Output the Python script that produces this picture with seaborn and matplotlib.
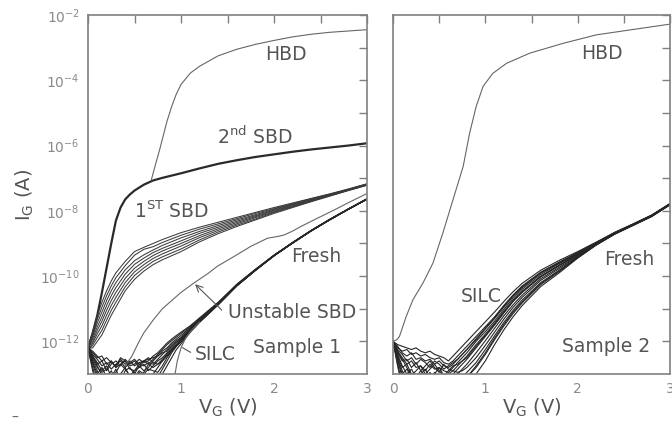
import numpy as np
import pandas as pd
import matplotlib
matplotlib.use('Agg')
import matplotlib.pyplot as plt
import seaborn as sns

# ---------------- data (log10 of gate current in A) ----------------
V_SBD2 = [0, 0.05, 0.1, 0.15, 0.2, 0.25, 0.3, 0.35, 0.4, 0.45, 0.5, 0.6, 0.7, 0.8,
          1.0, 1.2, 1.4, 1.6, 1.8, 2.0, 2.2, 2.4, 2.6, 2.8, 3.0]
LOG_SBD2 = [-12.2, -11.75, -11.2, -10.5, -9.75, -9.0, -8.3, -7.9, -7.65, -7.5, -7.38, -7.2,
            -7.07, -6.99, -6.85, -6.7, -6.56, -6.45, -6.35, -6.27, -6.19, -6.12, -6.06, -6.0, -5.93]

V_HBD1 = [0.68, 0.72, 0.77, 0.8, 0.85, 0.9, 0.95, 1.0, 1.1, 1.2, 1.4, 1.6, 1.8, 2.0,
          2.2, 2.4, 2.6, 2.8, 3.0]
LOG_HBD1 = [-7.06, -6.64, -6.13, -5.8, -5.25, -4.8, -4.42, -4.13, -3.78, -3.57, -3.25,
            -3.05, -2.9, -2.78, -2.67, -2.59, -2.53, -2.49, -2.45]

V_SBD1 = [0, 0.05, 0.1, 0.15, 0.2, 0.25, 0.3, 0.4, 0.5, 0.6, 0.7, 0.8, 1.0, 1.2, 1.4,
          1.6, 1.8, 2.0, 2.2, 2.4, 2.6, 2.8, 3.0]
LOG_SBD1 = [
    [-12.2, -11.7, -11.2, -10.8, -10.45, -10.15, -9.9, -9.55, -9.25, -9.12, -9.0, -8.88, -8.67, -8.5, -8.35, -8.2, -8.05, -7.9, -7.76, -7.62, -7.48, -7.33, -7.17],
    [-12.25, -11.78, -11.32, -10.95, -10.6, -10.3, -10.05, -9.68, -9.36, -9.18, -9.1, -8.97, -8.75, -8.56, -8.4, -8.24, -8.08, -7.93, -7.78, -7.63, -7.49, -7.34, -7.18],
    [-12.3, -11.85, -11.43, -11.1, -10.75, -10.45, -10.2, -9.81, -9.53, -9.35, -9.2, -9.06, -8.83, -8.63, -8.45, -8.28, -8.12, -7.95, -7.8, -7.65, -7.5, -7.35, -7.18],
    [-12.15, -11.92, -11.55, -11.25, -10.9, -10.6, -10.35, -9.94, -9.64, -9.45, -9.28, -9.15, -8.92, -8.69, -8.5, -8.32, -8.15, -7.98, -7.82, -7.66, -7.51, -7.35, -7.19],
    [-12.2, -12.0, -11.66, -11.38, -11.05, -10.75, -10.5, -10.07, -9.76, -9.55, -9.37, -9.23, -9.0, -8.76, -8.55, -8.36, -8.18, -8.0, -7.84, -7.68, -7.52, -7.36, -7.2],
    [-12.3, -12.05, -11.77, -11.52, -11.2, -10.9, -10.65, -10.2, -9.87, -9.65, -9.46, -9.32, -9.08, -8.82, -8.6, -8.4, -8.21, -8.03, -7.86, -7.69, -7.53, -7.37, -7.2],
    [-12.25, -12.12, -11.88, -11.66, -11.35, -11.05, -10.8, -10.33, -9.98, -9.75, -9.55, -9.41, -9.17, -8.89, -8.65, -8.44, -8.25, -8.05, -7.88, -7.71, -7.54, -7.37, -7.21],
    [-12.2, -12.2, -12.0, -11.8, -11.5, -11.2, -10.95, -10.45, -10.1, -9.85, -9.65, -9.5, -9.25, -8.95, -8.7, -8.48, -8.28, -8.08, -7.9, -7.72, -7.55, -7.38, -7.22],
]

V_FRESH1 = [0, 0.05, 0.1, 0.15, 0.2, 0.25, 0.3, 0.35, 0.4, 0.45, 0.5, 0.55, 0.6, 0.65,
            0.7, 0.75, 0.8, 0.85, 0.9, 0.95, 1.0, 1.1, 1.2, 1.4, 1.6, 1.8, 2.0, 2.2,
            2.4, 2.6, 2.8, 3.0]
LOG_FRESH1 = [
    [-12.15, -12.35, -12.5, -12.45, -12.7, -12.6, -12.8, -12.55, -12.7, -12.6, -12.75, -12.65, -12.6, -12.7, -12.55, -12.4, -12.25, -12.1, -11.98, -11.87, -11.76, -11.55, -11.3, -10.82, -10.26, -9.8, -9.36, -8.97, -8.6, -8.26, -7.94, -7.63],
    [-12.2, -12.45, -12.65, -12.9, -12.75, -13.1, -12.85, -13.2, -12.9, -12.8, -13.0, -12.75, -12.9, -12.8, -12.6, -12.45, -12.3, -12.2, -12.05, -11.93, -11.82, -11.58, -11.33, -10.84, -10.27, -9.81, -9.37, -8.98, -8.61, -8.27, -7.95, -7.64],
    [-12.25, -12.6, -12.9, -13.2, -13.4, -13.1, -12.95, -12.7, -12.85, -13.05, -12.9, -12.7, -12.75, -12.65, -12.7, -12.55, -12.4, -12.25, -12.1, -11.98, -11.88, -11.6, -11.35, -10.85, -10.28, -9.81, -9.37, -8.98, -8.61, -8.27, -7.95, -7.64],
    [-12.2, -12.5, -12.7, -12.6, -12.9, -12.7, -12.6, -12.75, -12.55, -12.7, -12.6, -12.8, -12.7, -12.9, -12.75, -12.6, -12.5, -12.35, -12.2, -12.05, -11.93, -11.63, -11.37, -10.86, -10.29, -9.82, -9.37, -8.98, -8.61, -8.27, -7.95, -7.64],
    [-12.15, -12.7, -13.1, -13.3, -13.0, -13.3, -13.2, -13.4, -13.1, -13.3, -13.2, -12.95, -13.1, -13.3, -13.0, -12.8, -12.6, -12.4, -12.25, -12.1, -11.97, -11.66, -11.38, -10.86, -10.29, -9.82, -9.37, -8.98, -8.61, -8.27, -7.95, -7.64],
    [-12.2, -12.4, -12.55, -12.75, -12.65, -12.85, -12.7, -12.6, -12.8, -12.65, -12.55, -12.7, -12.6, -12.5, -12.65, -12.7, -12.55, -12.4, -12.25, -12.12, -12.0, -11.68, -11.39, -10.87, -10.3, -9.82, -9.38, -8.99, -8.61, -8.27, -7.95, -7.64],
    [-12.25, -12.8, -13.3, -13.0, -13.4, -13.2, -13.4, -13.3, -13.4, -13.2, -13.4, -13.3, -13.4, -13.2, -13.3, -13.1, -12.85, -12.6, -12.35, -12.15, -12.02, -11.7, -11.4, -10.87, -10.3, -9.82, -9.38, -8.99, -8.61, -8.27, -7.95, -7.64],
    [-12.2, -12.55, -12.8, -12.95, -12.85, -12.6, -12.8, -12.7, -12.6, -12.85, -12.9, -12.8, -12.6, -12.55, -12.5, -12.45, -12.35, -12.3, -12.15, -12.02, -11.9, -11.62, -11.36, -10.85, -10.28, -9.81, -9.37, -8.98, -8.61, -8.27, -7.95, -7.64],
    [-12.2, -12.9, -13.4, -13.2, -13.3, -13.4, -13.1, -13.3, -13.4, -13.2, -13.35, -13.4, -13.2, -13.4, -13.3, -13.2, -13.0, -12.75, -12.5, -12.25, -12.08, -11.72, -11.42, -10.88, -10.3, -9.83, -9.38, -8.99, -8.62, -8.28, -7.95, -7.65],
    [-12.2, -12.3, -12.45, -12.6, -12.5, -12.65, -12.75, -12.5, -12.6, -12.75, -12.7, -12.55, -12.65, -12.6, -12.45, -12.35, -12.2, -12.05, -11.93, -11.82, -11.72, -11.52, -11.28, -10.8, -10.25, -9.79, -9.36, -8.97, -8.6, -8.26, -7.94, -7.63],
    [-12.25, -12.65, -13.0, -12.8, -13.1, -12.9, -13.2, -13.0, -12.8, -13.1, -12.95, -13.15, -12.95, -12.7, -12.8, -12.7, -12.6, -12.45, -12.3, -12.15, -12.0, -11.67, -11.39, -10.87, -10.29, -9.82, -9.37, -8.98, -8.61, -8.27, -7.95, -7.64],
    [-12.15, -12.45, -12.75, -13.05, -13.3, -13.4, -13.2, -13.0, -13.25, -13.4, -13.1, -12.9, -13.0, -12.85, -12.9, -12.95, -12.75, -12.5, -12.3, -12.12, -11.98, -11.66, -11.38, -10.86, -10.29, -9.82, -9.37, -8.98, -8.61, -8.27, -7.95, -7.64],
]

V_SILC1 = [0.93, 0.96, 1.0, 1.05, 1.1, 1.2]
LOG_SILC1 = [-13.1, -12.6, -12.2, -11.9, -11.7, -11.4]

V_UNST = [0.4, 0.47, 0.55, 0.6, 0.7, 0.8, 0.9, 1.0, 1.14, 1.3, 1.39, 1.57, 1.75, 1.93,
          2.05, 2.11, 2.2, 2.29, 2.45, 2.65, 2.8, 3.0]
LOG_UNST = [-12.75, -12.46, -12.0, -11.74, -11.35, -11.0, -10.75, -10.5, -10.21, -9.9,
            -9.70, -9.40, -9.09, -8.84, -8.78, -8.74, -8.62, -8.48, -8.25, -7.97, -7.75, -7.47]

V_HBD2 = [0, 0.04, 0.07, 0.1, 0.144, 0.217, 0.325, 0.433, 0.54, 0.65, 0.76, 0.83, 0.9,
          0.975, 1.08, 1.23, 1.48, 1.84, 2.2, 2.56, 3.0]
LOG_HBD2 = [-12.0, -11.95, -11.85, -11.6, -11.23, -10.72, -10.21, -9.6, -8.68, -7.66,
            -6.64, -5.62, -4.81, -4.19, -3.79, -3.48, -3.17, -2.87, -2.61, -2.46, -2.28]

V_FRESH2 = [0, 0.05, 0.1, 0.15, 0.2, 0.25, 0.3, 0.35, 0.4, 0.45, 0.5, 0.55, 0.6, 0.65,
            0.7, 0.75, 0.8, 0.9, 1.0, 1.1, 1.2, 1.3, 1.4, 1.6, 1.8, 2.0, 2.2, 2.4, 2.6, 2.8, 3.0]
LOG_FRESH2 = [
    [-12.0, -12.1, -12.15, -12.2, -12.25, -12.2, -12.3, -12.35, -12.3, -12.4, -12.45, -12.5, -12.6, -12.45, -12.3, -12.15, -12.0, -11.7, -11.4, -11.1, -10.78, -10.48, -10.22, -9.82, -9.52, -9.25, -8.96, -8.66, -8.4, -8.13, -7.78],
    [-12.0, -12.2, -12.3, -12.25, -12.4, -12.35, -12.45, -12.4, -12.5, -12.55, -12.5, -12.65, -12.7, -12.6, -12.45, -12.3, -12.15, -11.85, -11.55, -11.25, -10.9, -10.58, -10.3, -9.88, -9.57, -9.28, -8.98, -8.67, -8.41, -8.14, -7.78],
    [-12.05, -12.3, -12.5, -12.7, -12.6, -12.8, -12.75, -12.9, -12.7, -12.85, -12.8, -12.9, -12.95, -12.8, -12.65, -12.5, -12.35, -12.0, -11.7, -11.38, -11.02, -10.68, -10.4, -9.95, -9.62, -9.32, -9.0, -8.68, -8.42, -8.15, -7.79],
    [-12.0, -12.4, -12.75, -13.0, -12.85, -13.1, -12.9, -13.05, -13.2, -12.95, -13.1, -13.0, -13.15, -13.0, -12.85, -12.7, -12.55, -12.2, -11.85, -11.5, -11.13, -10.78, -10.5, -10.02, -9.68, -9.35, -9.01, -8.69, -8.43, -8.15, -7.79],
    [-12.05, -12.5, -12.9, -13.2, -13.4, -13.2, -13.35, -13.1, -13.3, -13.4, -13.2, -13.35, -13.2, -13.1, -13.0, -12.85, -12.7, -12.35, -11.98, -11.6, -11.22, -10.88, -10.58, -10.08, -9.73, -9.38, -9.02, -8.7, -8.43, -8.16, -7.8],
    [-12.0, -12.35, -12.6, -12.55, -12.8, -12.65, -12.9, -12.75, -12.6, -12.8, -12.95, -12.7, -12.85, -12.9, -12.95, -12.9, -12.8, -12.5, -12.12, -11.72, -11.32, -10.96, -10.65, -10.13, -9.77, -9.4, -9.03, -8.7, -8.43, -8.16, -7.8],
    [-12.0, -12.6, -13.1, -13.4, -13.2, -13.4, -13.3, -13.4, -13.15, -13.3, -13.4, -13.2, -13.4, -13.3, -13.2, -13.1, -12.95, -12.65, -12.25, -11.83, -11.42, -11.05, -10.73, -10.2, -9.82, -9.42, -9.04, -8.71, -8.44, -8.17, -7.81],
    [-12.05, -12.45, -12.8, -12.7, -13.0, -13.2, -13.0, -12.85, -13.1, -13.0, -12.8, -13.05, -13.1, -13.2, -13.3, -13.2, -13.1, -12.8, -12.4, -11.95, -11.53, -11.15, -10.82, -10.26, -9.86, -9.44, -9.05, -8.71, -8.44, -8.17, -7.81],
    [-12.0, -12.7, -13.3, -13.1, -13.4, -13.3, -13.4, -13.4, -13.3, -13.4, -13.3, -13.4, -13.4, -13.4, -13.4, -13.35, -13.25, -13.0, -12.6, -12.1, -11.65, -11.25, -10.9, -10.32, -9.9, -9.45, -9.05, -8.72, -8.45, -8.18, -7.82],
    [-12.0, -12.25, -12.4, -12.6, -12.5, -12.7, -12.55, -12.65, -12.8, -12.6, -12.7, -12.85, -12.75, -12.65, -12.55, -12.4, -12.25, -11.95, -11.62, -11.3, -10.95, -10.62, -10.35, -9.9, -9.6, -9.3, -8.99, -8.68, -8.42, -8.15, -7.79],
    [-12.0, -12.15, -12.35, -12.45, -12.35, -12.55, -12.5, -12.6, -12.55, -12.7, -12.6, -12.75, -12.8, -12.7, -12.55, -12.4, -12.25, -11.92, -11.6, -11.28, -10.93, -10.6, -10.33, -9.9, -9.58, -9.29, -8.98, -8.67, -8.41, -8.14, -7.78],
    [-12.05, -12.55, -13.0, -12.85, -13.1, -13.3, -13.1, -13.25, -12.95, -13.15, -13.3, -13.1, -13.0, -12.9, -12.75, -12.6, -12.45, -12.1, -11.78, -11.44, -11.08, -10.74, -10.46, -10.0, -9.66, -9.34, -9.01, -8.69, -8.43, -8.15, -7.79],
    [-12.0, -12.75, -13.4, -13.3, -13.4, -13.1, -13.4, -13.3, -13.4, -13.3, -13.4, -13.3, -13.4, -13.4, -13.3, -13.2, -13.1, -12.75, -12.35, -11.9, -11.48, -11.1, -10.78, -10.23, -9.84, -9.43, -9.04, -8.71, -8.44, -8.17, -7.81],
    [-12.0, -12.3, -12.55, -12.8, -13.05, -12.9, -12.75, -13.0, -12.85, -12.7, -12.9, -13.05, -12.9, -12.75, -12.7, -12.6, -12.5, -12.15, -11.82, -11.48, -11.12, -10.77, -10.48, -10.02, -9.68, -9.35, -9.01, -8.69, -8.43, -8.15, -7.79],
]

X_TICKS = [0, 1, 2, 3]
Y_EXPONENTS = list(range(-12, -1))
Y_TICK_LABELS = [f"$10^{{{e}}}$" if e % 2 == 0 else "" for e in Y_EXPONENTS]

# ---------------- assemble long table ----------------
rows = []
def add(panel, group, cid, V, L):
    for v, l in zip(V, L):
        rows.append(dict(panel=panel, group=group, curve=cid, V=v, I=10.0 ** l))

add(1, 'sbd2', 's2', V_SBD2, LOG_SBD2)
add(1, 'hbd', 'h1', V_HBD1, LOG_HBD1)
for k, L in enumerate(LOG_SBD1):
    add(1, 'sbd1', f'b{k}', V_SBD1, L)
for k, L in enumerate(LOG_FRESH1):
    add(1, 'fresh', f'f{k}', V_FRESH1, L)
add(1, 'thin', 'silc1', V_SILC1, LOG_SILC1)
add(1, 'thin', 'unst', V_UNST, LOG_UNST)
add(2, 'hbd', 'h2', V_HBD2, LOG_HBD2)
for k, L in enumerate(LOG_FRESH2):
    add(2, 'fresh', f'r{k}', V_FRESH2, L)
df = pd.DataFrame(rows)

styles = {'sbd2': dict(color='#2a2a2a', lw=1.6),
          'hbd': dict(color='#666666', lw=0.8),
          'sbd1': dict(color='#3a3a3a', lw=0.75),
          'fresh': dict(color='#262626', lw=0.8),
          'thin': dict(color='#666666', lw=0.8)}

# ---------------- figure ----------------
sns.set_theme(style='white')
plt.rcParams['font.family'] = ['DejaVu Sans']
plt.rcParams['mathtext.default'] = 'regular'

W, H = 672, 425
fig = plt.figure(figsize=(W / 100, H / 100), dpi=100)
bot = 1 - 374 / H
top = 1 - 15 / H
ax1 = fig.add_axes([88 / W, bot, (367 - 88) / W, top - bot])
ax2 = fig.add_axes([393 / W, bot, (670 - 393) / W, top - bot])

TXT = '#555555'
TICKC = '#8a8a8a'
SPINE = '#808080'

for ax, p in ((ax1, 1), (ax2, 2)):
    sub = df[df.panel == p]
    for g, st in styles.items():
        d = sub[sub.group == g]
        if len(d) == 0:
            continue
        sns.lineplot(data=d, x='V', y='I', units='curve', estimator=None, sort=False,
                     color=st['color'], linewidth=st['lw'], legend=False, ax=ax)
    ax.set_yscale('log')
    ax.set_xlim(0, 3)
    ax.set_ylim(1e-13, 1e-2)
    ax.set_xticks(X_TICKS)
    ax.set_xticks([0.5, 1.5, 2.5], minor=True)
    ax.set_xticklabels([str(t) for t in X_TICKS])
    ax.set_yticks([10.0 ** e for e in Y_EXPONENTS])
    ax.yaxis.set_minor_locator(matplotlib.ticker.NullLocator())
    ax.tick_params(which='both', direction='in', top=True, right=True, length=6,
                   width=1.0, color=SPINE, labelcolor=TICKC, labelsize=10, pad=6)
    for s in ax.spines.values():
        s.set_color(SPINE)
        s.set_linewidth(1.2)
    ax.set_xlabel('V$_G$ (V)', fontsize=14, color=TXT)
    ax.xaxis.set_label_coords(0.5, -0.062)
    ax.set_ylabel('')

ax1.set_yticklabels(Y_TICK_LABELS)
ax2.set_yticklabels([])
ax1.set_ylabel('I$_G$ (A)', fontsize=14, color=TXT)
ax1.yaxis.set_label_coords(-0.185, 0.5)

fs = 13.5
def T(ax, x, lg, s, ha='left'):
    ax.text(x, 10.0 ** lg, s, ha=ha, va='center', fontsize=fs, color=TXT)

T(ax1, 2.13, -3.22, 'HBD', 'center')
T(ax1, 1.39, -5.72, '2$^{nd}$ SBD')
T(ax1, 0.49, -8.02, '1$^{ST}$ SBD')
T(ax1, 2.45, -9.40, 'Fresh', 'center')
T(ax1, 1.51, -11.13, 'Unstable SBD')
T(ax1, 1.15, -12.41, 'SILC')
T(ax1, 1.77, -12.2, 'Sample 1')
ax1.annotate('', xy=(1.13, 10 ** -10.19), xytext=(1.46, 10 ** -11.1),
             arrowprops=dict(arrowstyle='->', color='#555555', lw=0.8))
ax1.annotate('', xy=(0.99, 10 ** -12.15), xytext=(1.13, 10 ** -12.38),
             arrowprops=dict(arrowstyle='-', color='#555555', lw=0.8))

T(ax2, 2.26, -3.17, 'HBD', 'center')
T(ax2, 2.56, -9.5, 'Fresh', 'center')
T(ax2, 0.957, -10.62, 'SILC', 'center')
T(ax2, 2.31, -12.15, 'Sample 2', 'center')

# small stray dash at the bottom-left corner of the scanned figure
fig.text(15 / W, 1 - 418 / H, '–', fontsize=10, color='#666666', ha='center', va='center')

fig.savefig('out.png', dpi=100)
